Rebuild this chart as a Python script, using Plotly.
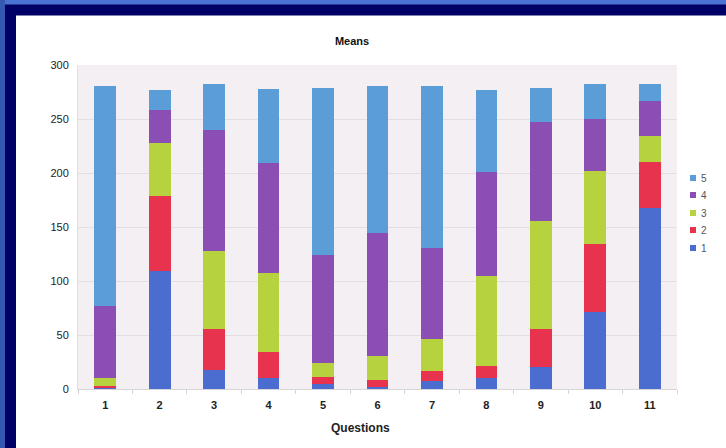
import plotly.graph_objects as go

questions = ["1", "2", "3", "4", "5", "6", "7", "8", "9", "10", "11"]
series_names = ["1", "2", "3", "4", "5"]
s1 = [1, 109, 18, 10, 5, 2, 7, 10, 20, 71, 168]
s2 = [2, 70, 38, 24, 6, 6, 10, 11, 36, 63, 42]
s3 = [7, 49, 72, 73, 13, 23, 29, 84, 100, 68, 24]
s4 = [67, 30, 112, 102, 100, 113, 85, 96, 91, 48, 33]
s5 = [204, 19, 42, 69, 155, 137, 150, 76, 32, 32, 15]
values = [s1, s2, s3, s4, s5]
colors = ["#4b6dcf", "#e8334f", "#b6d33f", "#8b4fb4", "#5b9dd6"]
y_ticks = [0, 50, 100, 150, 200, 250, 300]

fig = go.Figure()
for name, vals, col in zip(series_names, values, colors):
    fig.add_trace(go.Bar(x=questions, y=vals, name=name, marker_color=col,
                         marker_line_width=0, showlegend=False))

W, H = 726, 448
L, R, T, B = 78, 49, 65, 59
PW, PH = W - L - R, H - T - B

def xp(px):  # page pixel x -> paper
    return (px - L) / PW

def yp(py):  # page pixel y -> paper
    return (H - B - py) / PH

fig.update_layout(
    width=W, height=H,
    margin=dict(l=L, r=R, t=T, b=B, pad=0),
    barmode="stack", bargap=0.6, showlegend=False,
    paper_bgcolor="white", plot_bgcolor="#f3eff3",
    font=dict(family="Liberation Sans, Arial, sans-serif", color="#222222"),
    title=dict(text="<b>Means</b>", x=352 / W, xanchor="center",
               y=1 - 41 / H, yanchor="middle", yref="container",
               font=dict(size=11, color="#111111")),
    xaxis=dict(type="category", showgrid=False, ticks="outside",
               tickson="boundaries", ticklen=4, tickcolor="#d8d4d8",
               showline=True, linecolor="#d8d4d8", linewidth=1,
               ticklabelstandoff=6,
               tickfont=dict(size=11, color="#222222"),
               tickprefix="<b>", ticksuffix="</b>"),
    yaxis=dict(range=[0, 300], tickvals=y_ticks, showgrid=True,
               gridcolor="#e2dee2", gridwidth=1, zeroline=False,
               showline=True, linecolor="#e2dee2", ticks="outside",
               ticklen=6, tickcolor="rgba(0,0,0,0)",
               tickfont=dict(size=11, color="#222222"),
               tickprefix="<b>", ticksuffix="</b>"),
)

fig.add_annotation(text="<b>Questions</b>", xref="paper", yref="paper",
                   x=xp(360), y=yp(428), xanchor="center", yanchor="middle",
                   showarrow=False, font=dict(size=12, color="#222222"))

# legend (top to bottom: 5,4,3,2,1)
leg_y = [248, 230, 213, 195, 178]
for name, col, ly in zip(series_names, colors, leg_y):
    fig.add_shape(type="rect", xref="paper", yref="paper",
                  x0=xp(690), x1=xp(696), y0=yp(ly + 3), y1=yp(ly - 3),
                  fillcolor=col, line_width=0)
    fig.add_annotation(text=name, xref="paper", yref="paper",
                       x=xp(699), y=yp(ly), xanchor="left", yanchor="middle",
                       showarrow=False, font=dict(size=10, color="#555555"))

# scanned frame: blue outer edge and navy border along top and left
fig.add_shape(type="rect", xref="paper", yref="paper", layer="above",
              x0=xp(0), x1=xp(W), y0=yp(0), y1=yp(15.5),
              fillcolor="#000066", line_width=0)
fig.add_shape(type="rect", xref="paper", yref="paper", layer="above",
              x0=xp(0), x1=xp(16), y0=yp(H), y1=yp(0),
              fillcolor="#000066", line_width=0)
fig.add_shape(type="rect", xref="paper", yref="paper", layer="above",
              x0=xp(0), x1=xp(W), y0=yp(0), y1=yp(4.5),
              fillcolor="#4a72d2", line_width=0)
fig.add_shape(type="rect", xref="paper", yref="paper", layer="above",
              x0=xp(0), x1=xp(5), y0=yp(H), y1=yp(0),
              fillcolor="#3558b0", line_width=0)

fig.write_html("out.html")
